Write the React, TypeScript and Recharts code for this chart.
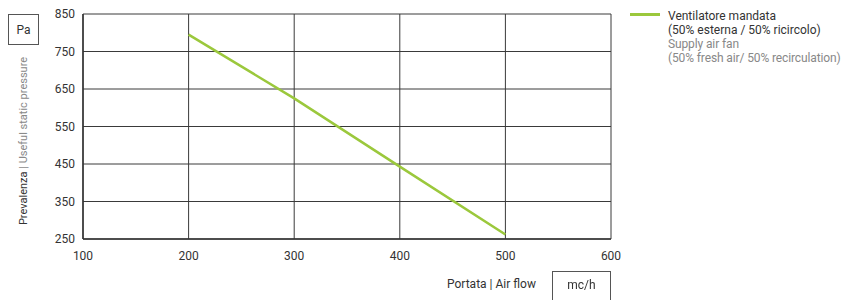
import { LineChart, Line, XAxis, YAxis, CartesianGrid } from "recharts";

const airFlow = [200, 300, 400, 500];
const pressure = [795, 625, 443, 262];
const xTicks = [100, 200, 300, 400, 500, 600];
const yTicks = [250, 350, 450, 550, 650, 750, 850];

const data = airFlow.map((x, i) => ({ flow: x, supply: pressure[i] }));

const FONT = "Roboto, 'Noto Sans', sans-serif";
const GREEN = "#9BC83C";

const ChartLegend = () => (
  <div
    style={{
      position: "absolute",
      left: 630,
      top: 9,
      fontFamily: FONT,
      fontSize: 12,
      lineHeight: "14px",
      whiteSpace: "nowrap",
    }}
  >
    <div
      style={{ position: "absolute", left: 0, top: 4, width: 30, height: 2.5, background: GREEN }}
    />
    <div style={{ marginLeft: 38, color: "#333" }}>
      Ventilatore mandata
      <br />
      (50% esterna / 50% ricircolo)
    </div>
    <div style={{ marginLeft: 38, color: "#888", letterSpacing: "-0.12px" }}>
      Supply air fan
      <br />
      (50% fresh air/ 50% recirculation)
    </div>
  </div>
);

export default function App() {
  return (
    <div style={{ position: "fixed", left: 0, top: 0, width: 843, height: 300, background: "#fff" }}>
      <LineChart
        width={843}
        height={300}
        data={data}
        margin={{ top: 14, right: 232, left: 0, bottom: 0 }}
      >
        <CartesianGrid stroke="#3a3a3a" strokeWidth={1} />
        <XAxis
          dataKey="flow"
          type="number"
          domain={[100, 600]}
          ticks={xTicks}
          height={61}
          tickLine={false}
          tickMargin={6}
          axisLine={{ stroke: "#333", strokeWidth: 1.5 }}
          tick={{ fontSize: 12, fill: "#333", fontFamily: FONT }}
        />
        <YAxis
          type="number"
          domain={[250, 850]}
          ticks={yTicks}
          width={83}
          tickLine={false}
          axisLine={{ stroke: "#333", strokeWidth: 1.5 }}
          tick={{ fontSize: 12, fill: "#333", fontFamily: FONT }}
        />
        <Line
          type="linear"
          dataKey="supply"
          stroke={GREEN}
          strokeWidth={2.5}
          dot={false}
          isAnimationActive={false}
        />
      </LineChart>
      <ChartLegend />
      <div
        style={{
          position: "absolute",
          left: 8,
          top: 14,
          width: 29,
          height: 29,
          border: "1px solid #555",
          fontFamily: FONT,
          fontSize: 12,
          color: "#333",
          display: "flex",
          alignItems: "center",
          justifyContent: "center",
        }}
      >
        Pa
      </div>
      <div
        style={{
          position: "absolute",
          left: 23,
          top: 141,
          transform: "translate(-50%, -50%) rotate(-90deg)",
          whiteSpace: "nowrap",
          fontFamily: FONT,
          fontSize: 11,
        }}
      >
        <span style={{ color: "#333" }}>Prevalenza</span>
        <span style={{ color: "#888" }}> | Useful static pressure</span>
      </div>
      <div
        style={{
          position: "absolute",
          left: 447,
          top: 277,
          whiteSpace: "nowrap",
          fontFamily: FONT,
          fontSize: 12,
          color: "#333",
        }}
      >
        Portata | Air flow
      </div>
      <div
        style={{
          position: "absolute",
          left: 552,
          top: 271,
          width: 59,
          height: 40,
          borderLeft: "1px solid #555",
          borderRight: "1px solid #555",
          borderTop: "1px solid #555",
          fontFamily: FONT,
          fontSize: 12,
          color: "#333",
          textAlign: "center",
          paddingTop: 6,
          boxSizing: "border-box",
        }}
      >
        mc/h
      </div>
    </div>
  );
}
